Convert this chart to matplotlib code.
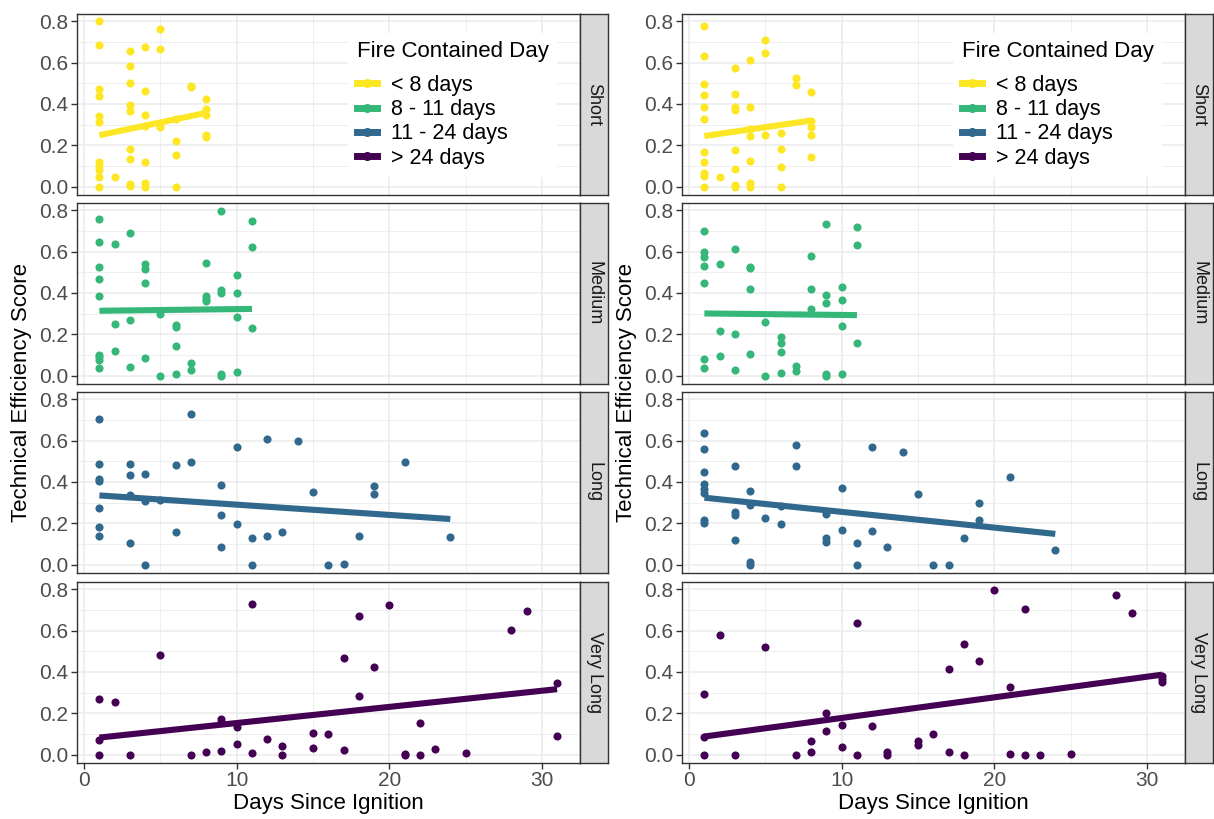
import numpy as np
import matplotlib.pyplot as plt
from matplotlib.lines import Line2D

plt.rcParams["font.family"] = ["Liberation Sans", "DejaVu Sans"]

groups = ["Short", "Medium", "Long", "Very Long"]
legend_labels = ["< 8 days", "8 - 11 days", "11 - 24 days", "> 24 days"]
colors = ["#FDE725", "#35B779", "#31688E", "#440154"]

# left chart
short_l_days = [1, 1, 1, 1, 1, 1, 1, 1, 1, 1, 1, 2, 3, 3, 3, 3, 3, 3, 3, 3, 3,
                4, 4, 4, 4, 4, 4, 4, 5, 5, 5, 6, 6, 6, 6, 7, 7, 8, 8, 8, 8, 8]
short_l_te = [0.80, 0.687, 0.473, 0.44, 0.342, 0.313, 0.118, 0.102, 0.081, 0.045, 0.0,
              0.045,
              0.656, 0.583, 0.502, 0.397, 0.364, 0.183, 0.136, 0.013, 0.003,
              0.675, 0.465, 0.345, 0.295, 0.12, 0.016, 0.0,
              0.764, 0.667, 0.288,
              0.329, 0.223, 0.154, 0.0,
              0.489, 0.483,
              0.424, 0.377, 0.348, 0.251, 0.238]

medium_l_days = [1, 1, 1, 1, 1, 1, 1, 1, 1, 2, 2, 2, 3, 3, 3, 4, 4, 4, 4, 5, 5,
                 6, 6, 6, 6, 7, 7, 8, 8, 8, 8, 9, 9, 9, 9, 9, 10, 10, 10, 10, 11, 11, 11]
medium_l_te = [0.756, 0.646, 0.525, 0.467, 0.386, 0.102, 0.089, 0.078, 0.036,
               0.638, 0.25, 0.118,
               0.692, 0.27, 0.042,
               0.54, 0.514, 0.448, 0.084,
               0.299, 0.0,
               0.244, 0.234, 0.145, 0.008,
               0.061, 0.026,
               0.546, 0.385, 0.372, 0.36,
               0.794, 0.414, 0.398, 0.008, 0.0,
               0.486, 0.398, 0.283, 0.019,
               0.747, 0.624, 0.231]

long_l_days = [1, 1, 1, 1, 1, 1, 1, 3, 3, 3, 3, 4, 4, 4, 5, 6, 6, 7, 7, 9, 9, 9,
               10, 10, 11, 11, 12, 12, 13, 14, 15, 16, 17, 18, 19, 19, 21, 24]
long_l_te = [0.706, 0.487, 0.415, 0.406, 0.274, 0.184, 0.137,
             0.487, 0.435, 0.335, 0.105,
             0.44, 0.31, 0.0,
             0.313,
             0.484, 0.16,
             0.729, 0.497,
             0.387, 0.24, 0.087,
             0.569, 0.197,
             0.131, 0.0,
             0.61, 0.139,
             0.156, 0.598, 0.352, 0.0, 0.005, 0.137,
             0.381, 0.344,
             0.495, 0.135]

vlong_l_days = [1, 1, 1, 2, 3, 5, 7, 8, 9, 9, 9, 10, 10, 11, 11, 12, 13, 13, 15, 15,
                16, 17, 17, 18, 18, 19, 20, 21, 21, 22, 22, 23, 25, 28, 29, 31, 31]
vlong_l_te = [0.269, 0.069, 0.0, 0.253, 0.0, 0.48, 0.0, 0.011,
              0.171, 0.16, 0.018,
              0.136, 0.05,
              0.731, 0.01,
              0.075,
              0.042, 0.0,
              0.106, 0.034,
              0.099,
              0.467, 0.021,
              0.67, 0.285,
              0.422, 0.726,
              0.005, 0.0,
              0.155, 0.0,
              0.029, 0.006, 0.603, 0.693,
              0.347, 0.091]

# right chart
short_r_days = [1, 1, 1, 1, 1, 1, 1, 1, 1, 1, 1, 2, 3, 3, 3, 3, 3, 3, 3, 3,
                4, 4, 4, 4, 4, 4, 4, 5, 5, 5, 6, 6, 6, 6, 7, 7, 8, 8, 8, 8, 8]
short_r_te = [0.776, 0.632, 0.499, 0.442, 0.384, 0.328, 0.168, 0.12, 0.064, 0.053, 0.0,
              0.048,
              0.574, 0.448, 0.387, 0.371, 0.178, 0.086, 0.006, 0.0,
              0.613, 0.387, 0.277, 0.245, 0.125, 0.018, 0.0,
              0.709, 0.645, 0.25,
              0.258, 0.184, 0.094, 0.0,
              0.528, 0.494,
              0.459, 0.317, 0.29, 0.248, 0.144]

medium_r_days = [1, 1, 1, 1, 1, 1, 1, 2, 2, 2, 3, 3, 3, 4, 4, 4, 4, 5, 5,
                 6, 6, 6, 6, 7, 7, 8, 8, 8, 9, 9, 9, 9, 9, 10, 10, 10, 10, 11, 11, 11]
medium_r_te = [0.70, 0.596, 0.572, 0.531, 0.449, 0.081, 0.037,
               0.538, 0.217, 0.097,
               0.612, 0.201, 0.029,
               0.528, 0.522, 0.42, 0.103,
               0.258, 0.0,
               0.188, 0.156, 0.116, 0.011,
               0.045, 0.024,
               0.58, 0.42, 0.324,
               0.733, 0.388, 0.351, 0.006, 0.0,
               0.43, 0.367, 0.242, 0.008,
               0.717, 0.631, 0.158]

long_r_days = [1, 1, 1, 1, 1, 1, 1, 1, 3, 3, 3, 3, 4, 4, 4, 4, 5, 6, 6, 7, 7,
               9, 9, 9, 10, 10, 11, 11, 12, 12, 13, 14, 15, 16, 17, 18, 19, 19, 21, 24]
long_r_te = [0.636, 0.559, 0.45, 0.39, 0.365, 0.347, 0.214, 0.204,
             0.476, 0.257, 0.238, 0.119,
             0.357, 0.291, 0.013, 0.0,
             0.225,
             0.283, 0.198,
             0.577, 0.476,
             0.246, 0.13, 0.112,
             0.37, 0.17,
             0.103, 0.0,
             0.567, 0.165,
             0.087, 0.546, 0.341, 0.0, 0.0, 0.13,
             0.299, 0.214,
             0.422, 0.072]

vlong_r_days = [1, 1, 1, 2, 3, 5, 7, 8, 8, 9, 9, 10, 10, 11, 11, 12, 13, 13, 15, 15,
                16, 17, 17, 18, 18, 19, 20, 21, 21, 22, 22, 23, 25, 28, 29, 31, 31, 31]
vlong_r_te = [0.292, 0.085, 0.0, 0.58, 0.0, 0.522, 0.0,
              0.066, 0.014,
              0.2, 0.117,
              0.145, 0.037,
              0.639, 0.0,
              0.141,
              0.013, 0.0,
              0.066, 0.045,
              0.101,
              0.414, 0.011,
              0.537, 0.0,
              0.455, 0.795,
              0.328, 0.005,
              0.705, 0.0,
              0.0, 0.005, 0.77, 0.683,
              0.38, 0.365, 0.35]

# fitted (lm) line values at first and last day
fit_l_start = [0.249, 0.314, 0.335, 0.083]
fit_l_end = [0.357, 0.323, 0.221, 0.317]
fit_r_start = [0.245, 0.301, 0.324, 0.088]
fit_r_end = [0.320, 0.293, 0.149, 0.387]

charts = [
    [(short_l_days, short_l_te), (medium_l_days, medium_l_te),
     (long_l_days, long_l_te), (vlong_l_days, vlong_l_te)],
    [(short_r_days, short_r_te), (medium_r_days, medium_r_te),
     (long_r_days, long_r_te), (vlong_r_days, vlong_r_te)],
]
fits = [(fit_l_start, fit_l_end), (fit_r_start, fit_r_end)]

W, H = 1214, 819
fig = plt.figure(figsize=(W / 100, H / 100), dpi=100)

panel_left = [76.5, 681.5]
panel_w = 503.5
strip_w = 28
tops = [14, 203, 392, 582]
facet_h = 181

for c, chart in enumerate(charts):
    x0 = panel_left[c]
    for i, (days, te) in enumerate(chart):
        top = tops[i]
        ax = fig.add_axes([x0 / W, (H - top - facet_h) / H, panel_w / W, facet_h / H])
        col = colors[i]
        ax.scatter(days, te, s=34, color=col, linewidths=0, zorder=3)
        ax.plot([min(days), max(days)], [fits[c][0][i], fits[c][1][i]],
                color=col, lw=4.4, solid_capstyle="butt", zorder=4)

        ax.set_xlim(-0.5, 32.5)
        ax.set_ylim(-0.04, 0.835)
        ax.set_xticks([0, 10, 20, 30])
        ax.set_xticks([5, 15, 25], minor=True)
        ax.set_yticks([0.0, 0.2, 0.4, 0.6, 0.8])
        ax.set_yticks([0.1, 0.3, 0.5, 0.7], minor=True)
        ax.set_yticklabels(["0.0", "0.2", "0.4", "0.6", "0.8"])
        ax.grid(which="major", color="#EBEBEB", lw=1.1)
        ax.grid(which="minor", color="#EBEBEB", lw=0.55)
        ax.set_axisbelow(True)
        for s in ax.spines.values():
            s.set_color("#333333")
            s.set_linewidth(1)
        ax.tick_params(which="major", length=4, width=1, color="#333333",
                       labelsize=15, labelcolor="#4D4D4D", pad=2)
        ax.tick_params(which="minor", length=0)
        if i < 3:
            ax.tick_params(bottom=False, labelbottom=False)

        sax = fig.add_axes([(x0 + panel_w) / W, (H - top - facet_h) / H, strip_w / W, facet_h / H])
        sax.set_facecolor("#D9D9D9")
        sax.set_xticks([])
        sax.set_yticks([])
        for s in sax.spines.values():
            s.set_color("#333333")
            s.set_linewidth(1)
        sax.text(0.5, 0.5, groups[i], rotation=-90, ha="center", va="center",
                 fontsize=13, color="#1A1A1A", transform=sax.transAxes)

        if i == 0:
            handles = [Line2D([], [], color=colors[k], lw=5, marker="o", ms=5.5)
                       for k in range(4)]
            leg = ax.legend(handles, legend_labels, title="Fire Contained Day",
                            loc="upper left",
                            bbox_to_anchor=((x0 + 261) / W, 1 - 22 / H),
                            bbox_transform=fig.transFigure, alignment="left",
                            frameon=True, facecolor="white", edgecolor="none",
                            framealpha=1, fontsize=15.5, title_fontsize=16,
                            handlelength=0.95, handletextpad=0.65,
                            labelspacing=0.15, borderpad=0.4)
            leg._legend_box.sep = 9

    fig.text((x0 - 55) / W, 1 - 393 / H, "Technical Efficiency Score", rotation=90,
             ha="center", va="center", fontsize=16)
    fig.text((x0 + panel_w / 2) / W, 1 - 803 / H, "Days Since Ignition",
             ha="center", va="center", fontsize=16)

fig.savefig("out.png", dpi=100)
